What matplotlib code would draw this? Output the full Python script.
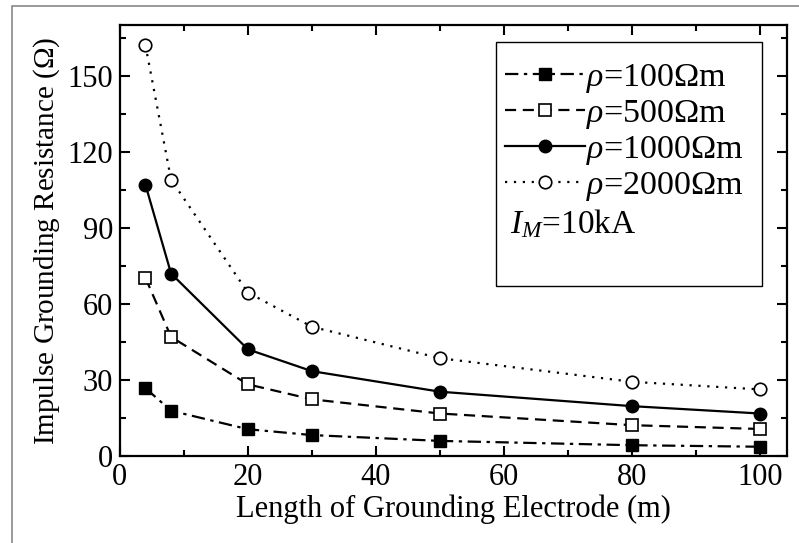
import numpy as np
import matplotlib
matplotlib.use('Agg')
import matplotlib.pyplot as plt
from matplotlib.patches import Rectangle
from matplotlib.ticker import MultipleLocator

plt.rcParams['font.family'] = 'Liberation Serif'
plt.rcParams['mathtext.fontset'] = 'custom'
plt.rcParams['mathtext.rm'] = 'Liberation Serif'
plt.rcParams['mathtext.it'] = 'Liberation Serif:italic'

# electrode length (m)
length = [4, 8, 20, 30, 50, 80, 100]

# impulse grounding resistance (ohm) per soil resistivity
r_100 = [26.8, 17.9, 10.6, 8.3, 6.0, 4.3, 3.7]
r_500 = [70.3, 47.0, 28.3, 22.4, 16.8, 12.2, 10.7]
r_1000 = [107.0, 72.0, 42.1, 33.5, 25.4, 19.7, 16.8]
r_2000 = [162.0, 109.0, 64.5, 51.0, 38.6, 29.3, 26.3]

labels = [r'$\rho$=100$\Omega$m', r'$\rho$=500$\Omega$m',
          r'$\rho$=1000$\Omega$m', r'$\rho$=2000$\Omega$m']

fig = plt.figure(figsize=(7.99, 5.43), dpi=100)
ax = fig.add_axes([0.150, 0.160, 0.835, 0.794])

# outer gray frame
fig.patches.append(Rectangle((12/799, -0.05), 1.2, (543-6)/543 + 0.05,
                             transform=fig.transFigure, fill=False,
                             edgecolor='#888888', linewidth=1.2))

ax.plot(length, r_100, color='black', lw=1.6, ls=(0, (6, 2.5, 1.5, 2.5)),
        marker='s', ms=8, mfc='black', mec='black', label=labels[0])
ax.plot(length, r_500, color='black', lw=1.6, ls=(0, (5, 3)),
        marker='s', ms=8, mfc='white', mec='black', mew=1.2, label=labels[1])
ax.plot(length, r_1000, color='black', lw=1.6, ls='-',
        marker='o', ms=9, mfc='black', mec='black', label=labels[2])
ax.plot(length, r_2000, color='black', lw=1.6, ls=(0, (1, 3)),
        marker='o', ms=9, mfc='white', mec='black', mew=1.2, label=labels[3])

ax.set_xlim(0, 104.2)
ax.set_ylim(0, 170)
ax.xaxis.set_major_locator(MultipleLocator(20))
ax.xaxis.set_minor_locator(MultipleLocator(10))
ax.yaxis.set_major_locator(MultipleLocator(30))
ax.yaxis.set_minor_locator(MultipleLocator(15))
ax.tick_params(which='both', direction='in', top=True, right=True,
               labelsize=22, width=1.5)
ax.tick_params(which='major', length=7, pad=5)
ax.tick_params(which='minor', length=4)
for s in ax.spines.values():
    s.set_linewidth(1.6)

ax.set_xlabel('Length of Grounding Electrode (m)', fontsize=22, labelpad=2)
ax.set_ylabel(r'Impulse Grounding Resistance ($\Omega$)', fontsize=21, labelpad=4)

# legend box drawn separately so the I_M note can sit at its left edge
ax.add_patch(Rectangle((0.564, 0.394), 0.399, 0.567, transform=ax.transAxes,
                       fill=False, edgecolor='black', lw=1.0, zorder=5))
leg = ax.legend(loc='upper left', bbox_to_anchor=(0.577, 0.915),
                fontsize=24.5, frameon=False, handlelength=2.35,
                handletextpad=0.05, labelspacing=0.09, borderpad=0,
                borderaxespad=0)
ax.text(0.585, 0.538, r'$I_M$=10kA', transform=ax.transAxes, fontsize=24,
        ha='left', va='center')

fig.savefig('out.png', dpi=100)
